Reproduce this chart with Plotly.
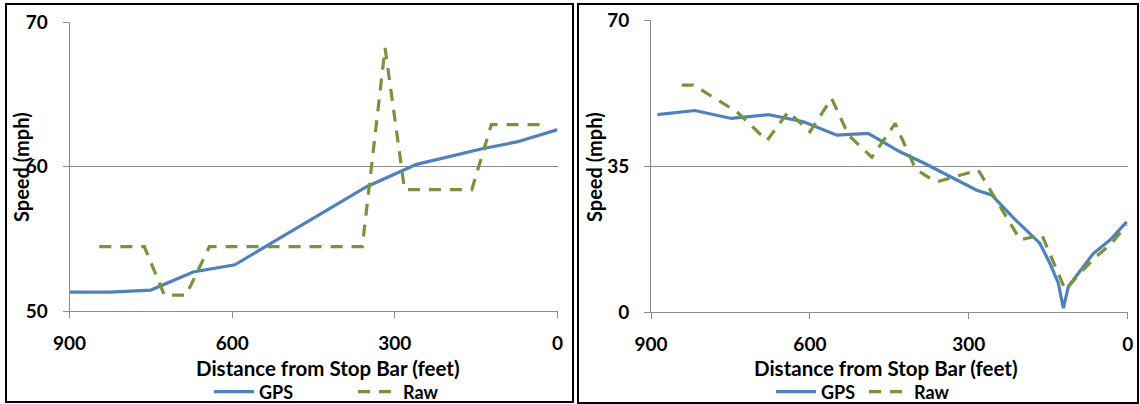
import plotly.graph_objects as go

W, H = 1140, 404

# Approach speed profiles, distance from stop bar in feet, speed in mph
left_gps_dist = [900, 825, 750, 672, 595, 450, 352, 260, 137, 75, 0]
left_gps_speed = [51.3, 51.3, 51.45, 52.7, 53.2, 56.4, 58.6, 60.15, 61.25, 61.7, 62.55]

left_raw_dist = [845, 762, 725, 685, 642, 360, 318, 282, 158, 122, 18]
left_raw_speed = [54.45, 54.45, 51.1, 51.1, 54.45, 54.45, 68.2, 58.4, 58.4, 62.9, 62.9]

right_gps_dist = [888, 817, 748, 678, 612, 549, 490, 430, 383, 285, 257, 212, 166,
                  147, 131, 121.5, 112, 90, 65, 33, 2]
right_gps_speed = [47.3, 48.3, 46.4, 47.3, 45.6, 42.4, 42.8, 38.4, 35.6, 29.2, 28.05,
                   22.1, 16.5, 11.7, 6.9, 0.9, 6.1, 9.7, 14.0, 17.3, 21.6]

right_raw_dist = [842, 820, 738, 681, 641, 600, 559, 527, 483, 439, 401, 383, 361,
                  301, 282, 203, 178, 162, 118, 90, 62, 30, 2]
right_raw_speed = [54.4, 54.4, 48.0, 41.1, 48.0, 43.2, 51.2, 42.4, 37.1, 45.2, 34.4,
                   32.8, 31.2, 33.4, 34.0, 17.3, 18.0, 18.5, 5.3, 9.3, 13.0, 16.5, 20.9]

x_ticks = [900, 600, 300, 0]
left_y_ticks = [50, 60, 70]
right_y_ticks = [0, 35, 70]

BLUE = "#4F81BD"
GREEN = "#77933C"
GRID = "#8C8C8C"
FONT = "Lato"


def px_x(v):
    return v / W


def px_y(v):
    return 1 - v / H


fig = go.Figure()

for xs, ys, name, color, dash, xa, ya, lg in [
    (left_gps_dist, left_gps_speed, "GPS", BLUE, "solid", "x", "y", "legend"),
    (left_raw_dist, left_raw_speed, "Raw", GREEN, "12px,9px", "x", "y", "legend"),
    (right_gps_dist, right_gps_speed, "GPS", BLUE, "solid", "x2", "y2", "legend2"),
    (right_raw_dist, right_raw_speed, "Raw", GREEN, "12px,9px", "x2", "y2", "legend2"),
]:
    fig.add_trace(go.Scatter(
        x=xs, y=ys, name=name, mode="lines",
        line=dict(color=color, width=3.2, dash=dash),
        xaxis=xa, yaxis=ya, legend=lg,
    ))

tick_font = dict(family=FONT, size=19, color="black", weight="bold")


def x_axis(domain, anchor):
    return dict(
        domain=domain, anchor=anchor, range=[900, 0], tickvals=x_ticks,
        ticks="outside", ticklen=6, tickcolor=GRID, showline=True,
        linecolor=GRID, linewidth=1, showgrid=False, zeroline=False,
        tickfont=tick_font, ticklabelstandoff=9, fixedrange=True,
        automargin=False,
    )


def y_axis(domain, anchor, rng, ticks):
    return dict(
        domain=domain, anchor=anchor, range=rng, tickvals=ticks,
        ticks="outside", ticklen=6, tickcolor=GRID, showline=True,
        linecolor=GRID, linewidth=1, showgrid=True, gridcolor=GRID,
        gridwidth=1, zeroline=False, tickfont=tick_font,
        ticklabelstandoff=11, fixedrange=True, automargin=False,
    )


legend_common = dict(
    orientation="h", yanchor="middle", xanchor="left",
    font=dict(family=FONT, size=18, color="black", weight="bold"),
    bgcolor="rgba(0,0,0,0)", borderwidth=0, entrywidthmode="pixels",
    itemwidth=40, tracegroupgap=0,
)

title_font = dict(family=FONT, size=20.5, color="black", weight="bold")
ytitle_font = dict(family=FONT, size=20, color="black", weight="bold")

annotations = [
    dict(text="Distance from Stop Bar (feet)", x=px_x(328), y=px_y(368),
         xref="paper", yref="paper", showarrow=False, font=title_font,
         xanchor="center", yanchor="middle"),
    dict(text="Distance from Stop Bar (feet)", x=px_x(886), y=px_y(368),
         xref="paper", yref="paper", showarrow=False, font=title_font,
         xanchor="center", yanchor="middle"),
    dict(text="Speed (mph)", x=px_x(21), y=px_y(167), textangle=-90,
         xref="paper", yref="paper", showarrow=False, font=ytitle_font,
         xanchor="center", yanchor="middle"),
    dict(text="Speed (mph)", x=px_x(594), y=px_y(167), textangle=-90,
         xref="paper", yref="paper", showarrow=False, font=ytitle_font,
         xanchor="center", yanchor="middle"),
]

shapes = [
    dict(type="rect", xref="paper", yref="paper",
         x0=px_x(6), x1=px_x(573), y0=px_y(402), y1=px_y(4),
         line=dict(color="black", width=2)),
    dict(type="rect", xref="paper", yref="paper",
         x0=px_x(578), x1=px_x(1138), y0=px_y(403), y1=px_y(4),
         line=dict(color="black", width=2)),
]

fig.update_layout(
    width=W, height=H, margin=dict(l=0, r=0, t=0, b=0, autoexpand=False),
    paper_bgcolor="white", plot_bgcolor="white",
    xaxis=x_axis([px_x(69.5), px_x(557.5)], "y"),
    yaxis=y_axis([px_y(311), px_y(22)], "x", [50, 70], left_y_ticks),
    xaxis2=x_axis([px_x(651), px_x(1127.7)], "y2"),
    yaxis2=y_axis([px_y(312), px_y(20)], "x2", [0, 70], right_y_ticks),
    legend=dict(legend_common, x=px_x(209), y=px_y(392), entrywidth=89),
    legend2=dict(legend_common, x=px_x(771), y=px_y(392), entrywidth=38),
    annotations=annotations, shapes=shapes, showlegend=True,
)

fig.write_html("out.html", config={"displayModeBar": False})
